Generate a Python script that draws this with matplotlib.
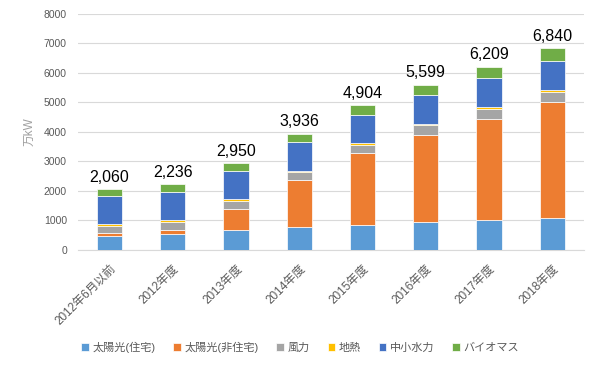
import matplotlib
matplotlib.use("Agg")
import matplotlib.pyplot as plt
import numpy as np

plt.rcParams['font.family'] = ['Liberation Sans', 'Noto Sans CJK JP', 'DejaVu Sans']

# カテゴリ
categories = ['2012年6月以前', '2012年度', '2013年度', '2014年度',
              '2015年度', '2016年度', '2017年度', '2018年度']

# 各電源の累積導入量（万kW）
jutaku = [470, 530, 690, 780, 850, 940, 1000, 1080]
hijutaku = [90, 160, 710, 1580, 2430, 2950, 3430, 3920]
furyoku = [260, 270, 270, 280, 290, 330, 350, 370]
chinetsu = [50, 50, 50, 50, 50, 50, 55, 55]
suiryoku = [960, 960, 970, 960, 970, 990, 1000, 995]
biomass = [230, 266, 260, 286, 314, 339, 374, 420]

totals = [2060, 2236, 2950, 3936, 4904, 5599, 6209, 6840]

series = [
    ('太陽光(住宅)', jutaku, '#5B9BD5'),
    ('太陽光(非住宅)', hijutaku, '#ED7D31'),
    ('風力', furyoku, '#A5A5A5'),
    ('地熱', chinetsu, '#FFC000'),
    ('中小水力', suiryoku, '#4472C4'),
    ('バイオマス', biomass, '#70AD47'),
]

fig = plt.figure(figsize=(6, 3.68), dpi=100)
ax = fig.add_axes([0.13, 0.3207, 0.843, 0.6413])

x = np.arange(len(categories))
bottom = np.zeros(len(categories))
for name, vals, col in series:
    ax.bar(x, vals, bottom=bottom, width=0.4, color=col, label=name,
           edgecolor='white', linewidth=0.5, zorder=3)
    bottom += np.array(vals)

# 合計ラベル
for i, t in enumerate(totals):
    ax.text(x[i], t + 150, f'{t:,}', ha='center', va='bottom',
            fontsize=11.5, color='black')

ax.set_ylim(0, 8000)
ax.set_xlim(-0.5, len(categories) - 0.5)
ax.set_yticks(range(0, 8001, 1000))
ax.yaxis.grid(True, color='#D9D9D9', linewidth=0.8, zorder=0)
for s in ['top', 'right', 'left']:
    ax.spines[s].set_visible(False)
ax.spines['bottom'].set_color('#D9D9D9')
ax.tick_params(axis='both', length=0, labelsize=7.5, labelcolor='#595959')
ax.tick_params(axis='y', pad=8)
ax.tick_params(axis='x', pad=9)
ax.set_xticks(x)
ax.set_xticklabels(categories, rotation=45, ha='right', rotation_mode='anchor',
                   fontsize=8.5)
ax.set_ylabel('万kW', color='#A0A0A0', fontsize=8.5, labelpad=6)

leg = fig.legend(loc='center', bbox_to_anchor=(0.5, 0.057), ncol=6,
                 frameon=False, fontsize=8, handlelength=0.7, handleheight=0.7,
                 handletextpad=0.3, columnspacing=1.6)
for t in leg.get_texts():
    t.set_color('#595959')

fig.savefig('out.png', dpi=100)
